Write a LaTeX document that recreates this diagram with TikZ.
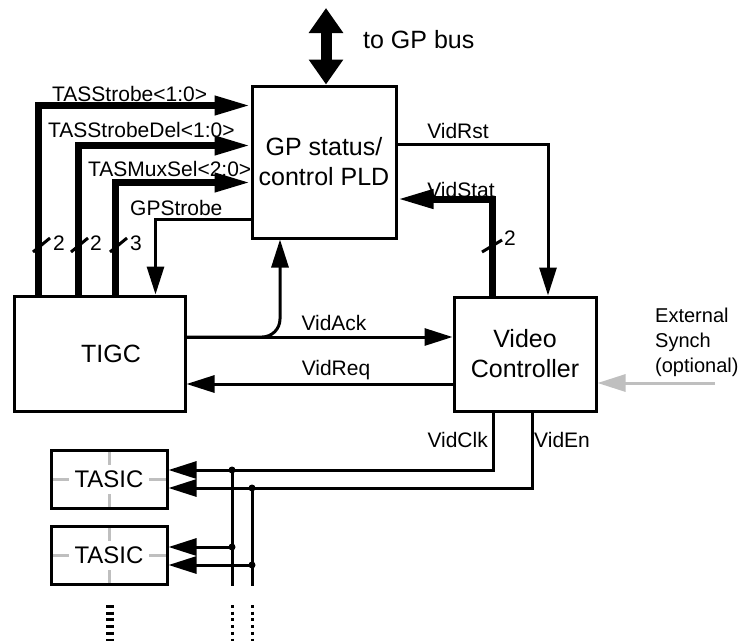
\documentclass[tikz,border=0pt]{standalone}
\usepackage{fontspec}
\setmainfont{Liberation Sans}
\usetikzlibrary{arrows.meta,calc}

\tikzset{
  blk/.style={draw, line width=3pt, align=center, font=\fontsize{25}{30}\selectfont},
  tasic/.style={draw, line width=3pt, minimum width=116pt, minimum height=58pt,
    font=\fontsize{24}{28}\selectfont,
    path picture={\draw[line width=3pt, black!25]
      (path picture bounding box.north) -- (path picture bounding box.south)
      (path picture bounding box.west) -- (path picture bounding box.east);}},
  sig/.style={line width=3pt, -{Triangle[length=28pt,width=17pt]}},
  busline/.style={line width=7pt, -{Triangle[length=36pt,width=18pt]}},
  lbl/.style={font=\fontsize{21}{25}\selectfont, inner sep=0pt},
  brk/.style={line width=3pt},
  junc/.style={circle, fill, inner sep=0pt, minimum size=7pt},
}

\begin{document}
\begin{tikzpicture}[x=1pt,y=-1pt]
\useasboundingbox (0,0) rectangle (743,641);

% Blocchi
\node[blk, minimum width=144pt, minimum height=152pt] (pld) at (324,162) {GP status/\\control PLD};
\node[blk, minimum width=171pt, minimum height=115pt] (tigc) at (99.5,353.5) {\hspace*{23pt}TIGC};
\node[blk, minimum width=142pt, minimum height=114pt] (vc) at (525,354) {Video\\Controller};
\node[tasic] (tasicA) at (109,479.5) {\setlength{\fboxsep}{6pt}\colorbox{white}{TASIC}};
\node[tasic] (tasicB) at (109,555.5) {\setlength{\fboxsep}{6pt}\colorbox{white}{TASIC}};

% Bus GP
\coordinate (gpbus) at (326,8);
\draw[line width=11pt, {Triangle[length=25pt,width=33pt]}-{Triangle[length=25pt,width=33pt]}] (pld.north -| gpbus) -- (gpbus);
\node[lbl, anchor=west, font=\fontsize{25}{30}\selectfont] (buslbl) at (363,40) {to GP bus};

% Segnali TIGC -> PLD
\draw[busline] ($(tigc.north west)+(26,0)$) |- ($(pld.north west)+(0,21)$);
\draw[busline] ($(tigc.north west)+(66,0)$) |- ($(pld.north west)+(0,61)$);
\draw[busline] ($(tigc.north west)+(103,0)$) |- ($(pld.north west)+(0,98)$);
\draw[sig] ($(pld.north west)+(0,135)$) -| ($(tigc.north west)+(143,0)$);
\node[lbl, anchor=west] (strobe) at (52,94) {TASStrobe<1:0>};
\node[lbl, anchor=west] (strobedel) at (48,130) {TASStrobeDel<1:0>};
\node[lbl, anchor=west] (muxsel) at (88,169) {TASMuxSel<2:0>};
\node[lbl, anchor=west] (gpstrobe) at (130,208) {GPStrobe};

% Larghezze
\draw[brk] (33,252) -- (50,238);
\draw[brk] (71,252) -- (88,238);
\draw[brk] (110,252) -- (127,238);
\node[lbl, anchor=west] (wa) at (53,243) {2};
\node[lbl, anchor=west] (wb) at (90,243) {2};
\node[lbl, anchor=west] (wc) at (130,243) {3};

% PLD <-> Video
\draw[sig] (pld.east |- 0,144) -| ($(vc.north)+(23,0)$);
\draw[busline] ($(vc.north)+(-33,0)$) |- (pld.east |- 0,199);
\node[lbl] (vidrst) at (458,131) {VidRst};
\node[lbl] (vidstat) at (461,190) {VidStat};
\draw[brk] (482,252) -- (502,240);
\node[lbl, anchor=west] (wd) at (504,238) {2};

% TIGC <-> Video
\draw[sig] (tigc.east |- 0,337) -- (vc.west |- 0,337);
\draw[sig, rounded corners=18pt] (tigc.east |- 0,337) -| ($(pld.south)+(-44,0)$);
\draw[sig] (vc.west |- 0,384) -- (tigc.east |- 0,384);
\node[lbl] (vidack) at (334,323) {VidAck};
\node[lbl] (vidreq) at (336,370) {VidReq};

% Synch esterno
\coordinate (ext) at (715,383);
\draw[sig, black!25] (ext) -- (vc.east |- ext);
\node[lbl, anchor=north west, align=left, font=\fontsize{20}{25}\selectfont] (extlbl) at (655,308) {External\\Synch\\(optional)};

% Video -> TASIC
\draw[sig] ($(vc.south)+(-32,0)$) |- (tasicA.east |- 0,470);
\draw[sig] ($(vc.south)+(7,0)$) |- (tasicA.east |- 0,488);
\node[lbl, anchor=east] (vidclk) at (488,440) {VidClk};
\node[lbl, anchor=west] (viden) at (534,440) {VidEn};
\node[junc] (jclkA) at (232,470) {};
\node[junc] (jenA) at (252,488) {};
\node[junc] (jclkB) at (232,547) {};
\node[junc] (jenB) at (252,565) {};
\coordinate (clkend) at (232,586);
\coordinate (enend) at (252,586);
\draw[brk] (jclkA.center) -- (clkend);
\draw[brk] (jenA.center) -- (enend);
\draw[sig] (jclkB.center) -- (tasicB.east |- jclkB);
\draw[sig] (jenB.center) -- (tasicB.east |- jenB);

% Continua
\draw[line width=8pt, dash pattern=on 3pt off 3.7pt] (110,605) -- (110,641);
\draw[line width=3pt, dash pattern=on 3pt off 3.7pt] (232,605) -- (232,641);
\draw[line width=3pt, dash pattern=on 3pt off 3.7pt] (252,605) -- (252,641);
\end{tikzpicture}
\end{document}
